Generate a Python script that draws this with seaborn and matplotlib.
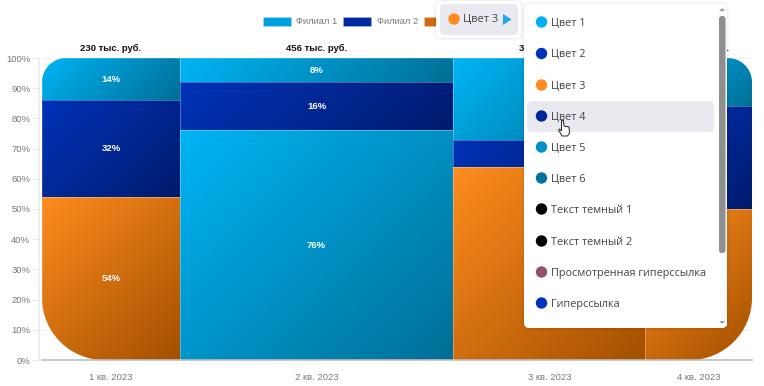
import numpy as np
import pandas as pd
import seaborn as sns
import matplotlib
matplotlib.use('Agg')
import matplotlib.pyplot as plt
from matplotlib.colors import LinearSegmentedColormap
from matplotlib.patches import FancyBboxPatch, Circle, Polygon, Rectangle, PathPatch
from matplotlib.path import Path
from matplotlib.transforms import Affine2D

# Данные
quarters = ['1 кв. 2023', '2 кв. 2023', '3 кв. 2023', '4 кв. 2023']
revenue = [230, 456, 320, 178]
branches = ['Филиал 1', 'Филиал 2', 'Филиал 3']
branch1 = [14, 8, 27, 16]
branch2 = [32, 16, 9, 34]
branch3 = [54, 76, 64, 50]
legend_colors = ['#009FDD', '#0027A3', '#D0690F']
gradients = [('#00B4F5', '#006F96'), ('#0033B8', '#001B6E'), ('#FF8C1F', '#A35000')]
# Цвет сегментов по кварталам: 76% во втором квартале перекрашен в голубой
branch3_gradient = [2, 0, 2, 2]
percent_ticks = [0, 10, 20, 30, 40, 50, 60, 70, 80, 90, 100]

menu_items = ['Цвет 1', 'Цвет 2', 'Цвет 3', 'Цвет 4', 'Цвет 5', 'Цвет 6',
              'Текст темный 1', 'Текст темный 2', 'Просмотренная гиперссылка', 'Гиперссылка']
menu_colors = ['#00B0F0', '#0033BB', '#FF8A1E', '#00279A', '#0090C8', '#00739B',
               '#000000', '#000000', '#954F72', '#0033BB']
menu_y = [22, 53.5, 85, 116, 147, 178, 209, 241, 272, 303]

W, H = 764, 386
sns.set_theme(style='white')
plt.rcParams['font.family'] = ['Liberation Sans', 'DejaVu Sans']

fig = plt.figure(figsize=(W / 100, H / 100), dpi=100)
ax = fig.add_axes([42 / W, 26 / H, 710 / W, 302 / H])

# Ширина столбца пропорциональна выручке
edges = np.concatenate([[0], np.cumsum(revenue)])
mids = (edges[:-1] + edges[1:]) / 2
df = pd.DataFrame({
    'mid': np.tile(mids, 3),
    'value': branch1 + branch2 + branch3,
    'branch': np.repeat(branches, 4),
})
sns.histplot(data=df, x='mid', weights='value', hue='branch', hue_order=branches,
             bins=edges.tolist(), multiple='stack', palette=legend_colors, ax=ax, alpha=1,
             edgecolor=(1, 1, 1, 0.2), linewidth=0.6, zorder=3)
ax.set_xlim(edges[0], edges[-1])
ax.set_ylim(0, 100)


def rounded_shape(w, h, top, bottom):
    # Контур с разными радиусами сверху и снизу, в долях осей
    tx, ty = top / w, top / h
    bx, by = bottom / w, bottom / h
    k = 0.45
    verts = [(tx, 1), (1 - tx, 1),
             (1 - tx * k, 1), (1, 1 - ty * k), (1, 1 - ty),
             (1, by),
             (1, by * k), (1 - bx * k, 0), (1 - bx, 0),
             (bx, 0),
             (bx * k, 0), (0, by * k), (0, by),
             (0, 1 - ty),
             (0, 1 - ty * k), (tx * k, 1), (tx, 1), (tx, 1)]
    codes = [Path.MOVETO, Path.LINETO,
             Path.CURVE4, Path.CURVE4, Path.CURVE4,
             Path.LINETO,
             Path.CURVE4, Path.CURVE4, Path.CURVE4,
             Path.LINETO,
             Path.CURVE4, Path.CURVE4, Path.CURVE4,
             Path.LINETO,
             Path.CURVE4, Path.CURVE4, Path.CURVE4,
             Path.CLOSEPOLY]
    return Path(verts, codes)


# Диагональный градиент внутри каждого сегмента
bars = list(ax.patches)
outline = PathPatch(rounded_shape(710, 302, 24, 62), transform=ax.transAxes,
                    facecolor='none', edgecolor='none')
ax.add_patch(outline)

g = np.linspace(0, 1, 128)
for i, bar in enumerate(bars):
    series = 2 - i // 4
    color_id = branch3_gradient[i % 4] if series == 2 else series
    start, end = gradients[color_id]
    cmap = LinearSegmentedColormap.from_list('g', [start, end])
    x0, y0 = bar.get_x(), bar.get_y()
    x1, y1 = x0 + bar.get_width(), y0 + bar.get_height()
    # Наклон 45 градусов в пикселях, поэтому учитываем размеры сегмента
    w_px = bar.get_width() / edges[-1] * 710
    h_px = bar.get_height() / 100 * 302
    grad = (g[None, :] * w_px + g[:, None] * h_px) / (w_px + h_px)
    im = ax.imshow(grad, cmap=cmap, extent=[x0, x1, y0, y1], origin='upper',
                   aspect='auto', vmin=0, vmax=1, zorder=2, interpolation='bilinear')
    im.set_clip_path(outline)
    bar.set_facecolor('none')
    bar.set_clip_path(outline)
    ax.text(x0 + bar.get_width() / 2, y0 + bar.get_height() / 2, f'{bar.get_height():.0f}%',
            color='white', fontsize=6.8, fontweight='bold', ha='center', va='center', zorder=4)
ax.set_xlim(edges[0], edges[-1])
ax.set_ylim(0, 100)

# Подписи над столбцами
for m, r in zip(mids, revenue):
    ax.text(m, 103, f'{r} тыс. руб.', color='#111111', fontsize=6.8, fontweight='bold',
            ha='center', va='center')

# Оси
ax.set_xlabel('')
ax.set_ylabel('')
ax.set_xticks(mids, quarters)
ax.set_yticks(percent_ticks, [f'{p}%' for p in percent_ticks])
ax.grid(axis='y', color='#EFEFEF', linewidth=0.8, zorder=0)
ax.set_axisbelow(True)
sns.despine(ax=ax, top=True, right=True)
ax.spines['left'].set_color('#EDEDED')
ax.spines['left'].set_position(('outward', 2))
ax.spines['bottom'].set_color('#BDBDBD')
ax.spines['bottom'].set_linewidth(1.2)
ax.tick_params(axis='y', length=5, width=0.7, color='#E8E8E8', labelcolor='#777777',
               labelsize=6.8, pad=1.5, left=True)
ax.tick_params(axis='x', length=0, labelcolor='#777777', labelsize=6.8, pad=9)

# Легенда
sns.move_legend(ax, 'center', bbox_to_anchor=(380.5 / W, 1 - 21.5 / H),
                bbox_transform=fig.transFigure, ncol=3, frameon=False, title=None,
                fontsize=6.7, labelcolor='#777777', handlelength=3.0, handleheight=1.1,
                handletextpad=0.55, columnspacing=0.65, borderpad=0)

# Всплывающее меню поверх графика, координаты в пикселях картинки
px = Affine2D().scale(1, -1).translate(0, H)
ui_font = ['Open Sans', 'DejaVu Sans']


def card(x0, y0, x1, y1, color, r=5, z=5):
    fig.add_artist(FancyBboxPatch((x0, y0), x1 - x0, y1 - y0, boxstyle=f'round,pad=0,rounding_size={r}',
                                  transform=px, facecolor=color, edgecolor='none', zorder=z))


def dot(x, y, color, r=5.7, z=7):
    fig.add_artist(Circle((x, y), r, transform=px, facecolor=color, edgecolor='none', zorder=z))


# Мягкая тень
for d, a in [(3, 0.012), (2, 0.018), (1, 0.025)]:
    card(436 - d, 1 - d, 521 + d, 38 + d, (0, 0, 0, a), r=6 + d, z=4)
    card(524 - d, 4 - d, 727 + d, 328 + d, (0, 0, 0, a), r=6 + d, z=4)

card(436, 1, 521, 38, 'white')
card(440, 4, 518, 35, '#E9EAEF', z=6)
dot(454, 19, '#FF8A1E')
fig.text(463, 20, 'Цвет 3', transform=px, fontsize=7.9, color='#444444', family=ui_font,
         va='center', zorder=8)
fig.add_artist(Polygon([(503, 14), (511.5, 19.5), (503, 25)], transform=px, facecolor='#1EA5F0',
                       edgecolor='none', zorder=8))

card(524, 4, 727, 328, 'white')
card(527, 101, 714, 132, '#E9EAEF', z=6)
for name, color, y in zip(menu_items, menu_colors, menu_y):
    dot(541.5, y, color)
    fig.text(551, y + 1.3, name, transform=px, fontsize=7.8, color='#444444', family=ui_font,
             va='center', zorder=8)

# Полоса прокрутки
fig.add_artist(Rectangle((719, 6), 8, 320, transform=px, facecolor='#FBFBFD', edgecolor='none', zorder=6))
card(719, 16, 725.5, 253, '#8F8F8F', r=3, z=7)
fig.add_artist(Polygon([(719.5, 11), (722, 8), (725, 11)], transform=px, facecolor='#9A9A9A',
                       edgecolor='none', zorder=7))
fig.add_artist(Polygon([(719.5, 321), (722, 324), (725, 321)], transform=px, facecolor='#9A9A9A',
                       edgecolor='none', zorder=7))

# Курсор-рука
hand = [(561.5, 120.5), (563.5, 120.5), (564, 126), (569, 127), (569.5, 133),
        (567.5, 136), (562, 136), (558.5, 130), (559.5, 129), (561.5, 131)]
fig.add_artist(Polygon(hand, transform=px, facecolor='white', edgecolor='#222222',
                       linewidth=0.7, zorder=9))

plt.savefig('out.png', dpi=100)
